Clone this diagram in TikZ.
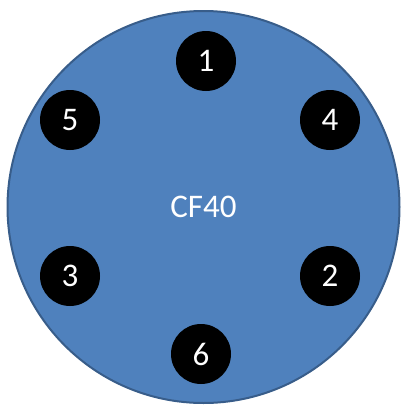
\documentclass[tikz,border=0pt]{standalone}
\usepackage{fontspec}
\setmainfont{Carlito}
\definecolor{flangeblue}{HTML}{4F81BD}
\definecolor{flangeedge}{HTML}{385D8A}

\begin{document}
\begin{tikzpicture}[x=1pt, y=-1pt,
    pin/.style={circle, fill=black, text=white, minimum size=60pt, inner sep=0pt, font=\fontsize{33}{33}\selectfont}]
    \useasboundingbox (0, 0) rectangle (401, 407);
    \node[circle, fill=flangeblue, draw=flangeedge, line width=2pt, minimum size=392pt, inner sep=0pt,
      text=white, font=\fontsize{33}{33}\selectfont] (flange) at (203.5, 207) {CF40};
    \node[pin] (p1) at (206, 61) {1};
    \node[pin] (p4) at (330, 120) {4};
    \node[pin] (p5) at (70, 120) {5};
    \node[pin] (p3) at (70, 276) {3};
    \node[pin] (p2) at (330, 276) {2};
    \node[pin] (p6) at (201, 354) {6};
  \end{tikzpicture}
\end{document}
